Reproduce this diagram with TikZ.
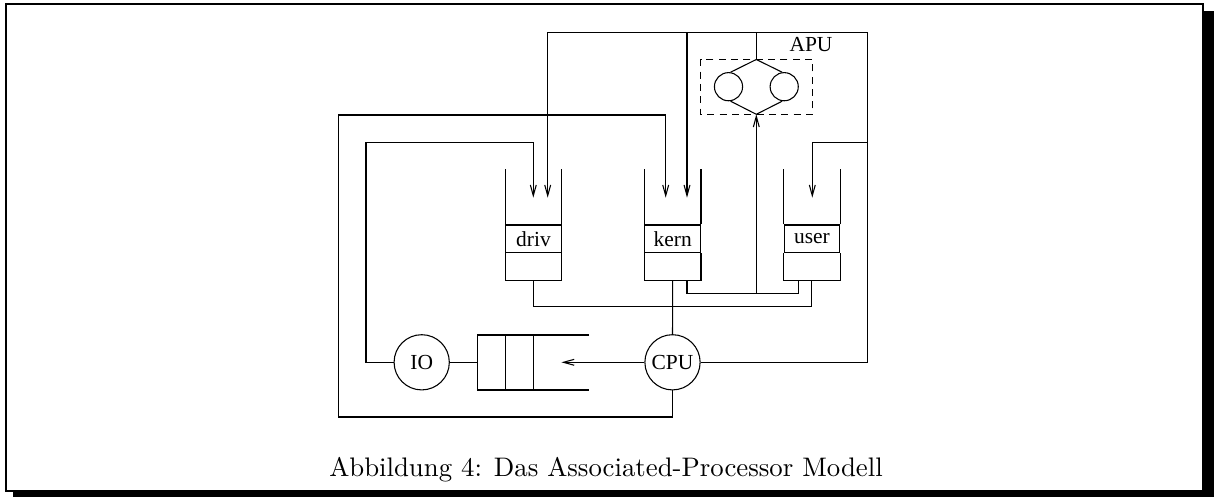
\documentclass[tikz,border=0pt]{standalone}
\usepackage{fontspec}
\newfontfamily\figfont{Liberation Serif}
\usetikzlibrary{arrows.meta}

\begin{document}
\begin{tikzpicture}[x=0.373pt, y=-0.373pt, >={Straight Barb[length=4pt,width=2.2pt]},
  stackbox/.style={draw, minimum width=20.7pt, minimum height=10.3pt, inner sep=0pt, font=\figfont\fontsize{8pt}{9pt}\selectfont},
  station/.style={draw, circle, minimum size=20.6pt, inner sep=0pt, font=\figfont\fontsize{8pt}{9pt}\selectfont},
  unit/.style={draw, circle, minimum size=10.5pt, inner sep=0pt}]
\useasboundingbox (0,0) rectangle (1214,497);
% frame with shadow
\fill (1203,11) rectangle (1214,497); \fill (13,491) rectangle (1214,497);
\draw[line width=0.75pt] (6,4) rectangle (1203,491);
% queues
\node[stackbox] (driv) at (533.5,238.8) {driv};
\node[stackbox] (kern) at (672.7,238.8) {kern};
\node[stackbox] (user) at (812,238.8) {user};
\foreach \q in {driv,kern,user} \draw (\q.north west) -- ++(0,-55) (\q.north east) -- ++(0,-55) (\q.south west) -- ++(0,27.3) -| (\q.south east);
\coordinate (drivin1) at (533.3,197.7); \coordinate (drivin2) at (547.7,197.7);
\coordinate (kernin1) at (665.7,197.7); \coordinate (kernin2) at (687,197.7); \coordinate (userin) at (812.3,197.7);
\coordinate (drivout) at (533.3,280); \coordinate (kernout1) at (672.7,280); \coordinate (kernout2) at (687,280);
\coordinate (userout1) at (798.3,280); \coordinate (userout2) at (811.7,280);
% stations
\node[station] (IO) at (421.7,362.3) {IO};
\node[station] (CPU) at (672.5,362.3) {CPU};
\coordinate (fifo) at (477.7,362.3); \coordinate (fifoin) at (561.4,362.3);
\draw (589,335) -- (477.7,335) -- (477.7,390) -- (589,390) (505.7,335) -- (505.7,390) (533.6,335) -- (533.6,390);
% APU
\draw[dash pattern=on 2.6pt off 2pt] (700.7,59.3) rectangle (812.3,114.3);
\node[font=\figfont\fontsize{8pt}{9pt}\selectfont] (apu) at (811,45) {APU};
\node[unit] (au1) at (728.5,86.7) {}; \node[unit] (au2) at (784.2,86.7) {};
\coordinate (apuin) at (756.3,114.3); \coordinate (apuout) at (756.3,59.5); \coordinate (apujoin) at (756.3,293.7);
\draw (au1.82) -- (apuout) -- (au2.98) (au1.-82) -- (apuin) -- (au2.-98);
% connectors
\coordinate (busL) at (547.7,32.3); \coordinate (busR) at (867.7,32.3);
\draw (CPU.east) -| (busR) -- (busL);
\draw[->] (busL) -- (drivin2);
\draw[->] (kernin2 |- busR) -- (kernin2);
\draw (apuout |- busR) -- (apuout);
\draw[->] (867.7,142.7) -| (userin);
\draw[->] (CPU.south) -- (672.5,417) -| (338.3,115) -| (kernin1);
\draw[->] (IO.west) -| (366,142.5) -| (drivin1);
\draw (drivout) -- ++(0,26.7) -| (userout2);
\draw (kernout2) -- ++(0,13.7) -| (userout1);
\draw (kernout1) -- (CPU.north);
\draw[->] (apujoin) -- (apuin);
\draw[->] (CPU.west) -- (fifoin);
\draw (IO.east) -- (fifo);
\node[anchor=base, font=\fontsize{10pt}{12pt}\selectfont] (caption) at (606,476.7) {Abbildung 4: Das Associated-Processor Modell};
\end{tikzpicture}
\end{document}
